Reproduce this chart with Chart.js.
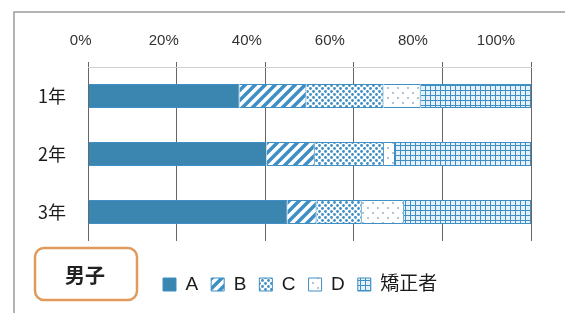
<!DOCTYPE html>
<html>
<head>
<meta charset="utf-8">
<script src="https://cdn.jsdelivr.net/npm/chart.js@4"></script>
<style>
    body { margin: 0; background: #fff; }
    canvas { display: block; }
</style>
</head>
<body>
<canvas id="myChart" width="565" height="313"></canvas>
<script>
// data (percent of each grade)
const grades = ['1年', '2年', '3年'];
const seriesNames = ['A', 'B', 'C', 'D', '矯正者'];
const valuesA = [34.2, 40.3, 45.0];
const valuesB = [15.1, 10.9, 6.6];
const valuesC = [17.4, 15.6, 10.2];
const valuesD = [8.4, 2.5, 9.5];
const valuesE = [24.9, 30.7, 28.7];
const tickValues = [0, 20, 40, 60, 80, 100];

const blue = '#3a86b0';
const lineBlue = '#3f8fc4';

const makePattern = (size, draw) => {
    const c = document.createElement('canvas');
    c.width = size;
    c.height = size;
    const g = c.getContext('2d');
    g.fillStyle = '#fff';
    g.fillRect(0, 0, size, size);
    draw(g, size);
    return document.getElementById('myChart').getContext('2d').createPattern(c, 'repeat');
};

const stripes = makePattern(10, (g, s) => {
    g.strokeStyle = lineBlue;
    g.lineWidth = 3.5;
    g.beginPath();
    g.moveTo(-5, 5); g.lineTo(5, -5);
    g.moveTo(0, s); g.lineTo(s, 0);
    g.moveTo(5, 15); g.lineTo(15, 5);
    g.stroke();
});

const dots = makePattern(6, (g) => {
    g.fillStyle = lineBlue;
    g.beginPath(); g.arc(1.5, 1.5, 1.4, 0, Math.PI * 2); g.fill();
    g.beginPath(); g.arc(4.5, 4.5, 1.4, 0, Math.PI * 2); g.fill();
});

const sparse = makePattern(10, (g) => {
    g.fillStyle = '#88a8c0';
    g.beginPath(); g.arc(3, 3, 0.9, 0, Math.PI * 2); g.fill();
    g.beginPath(); g.arc(8, 8, 0.9, 0, Math.PI * 2); g.fill();
});

const grid = makePattern(5, (g) => {
    g.fillStyle = '#e4f1fa';
    g.fillRect(0, 0, 5, 5);
    g.fillStyle = lineBlue;
    g.fillRect(0, 0, 5, 1);
    g.fillRect(0, 0, 1, 5);
});

const fills = [blue, stripes, dots, sparse, grid];
const seriesValues = [valuesA, valuesB, valuesC, valuesD, valuesE];

const datasets = seriesNames.map((name, i) => ({
    label: name,
    data: seriesValues[i],
    backgroundColor: fills[i],
    borderColor: lineBlue,
    borderWidth: 1,
    barPercentage: 0.41,
    categoryPercentage: 1
}));

// white background, outer frame and the "男子" tag
const framePlugin = {
    id: 'frame',
    beforeDraw: (chart) => {
        const ctx = chart.ctx;
        ctx.save();
        ctx.fillStyle = '#fff';
        ctx.fillRect(0, 0, chart.width, chart.height);
        ctx.strokeStyle = '#9a9a9a';
        ctx.lineWidth = 1.5;
        ctx.beginPath();
        ctx.moveTo(14, chart.height);
        ctx.lineTo(14, 12);
        ctx.lineTo(chart.width, 12);
        ctx.stroke();
        ctx.restore();
    },
    afterDraw: (chart) => {
        const ctx = chart.ctx;
        ctx.save();
        ctx.strokeStyle = '#e09a5c';
        ctx.lineWidth = 2.5;
        ctx.beginPath();
        ctx.roundRect(35, 248, 102, 52, 9);
        ctx.stroke();
        ctx.fillStyle = '#222';
        ctx.font = 'bold 20px "Noto Sans CJK JP"';
        ctx.textAlign = 'center';
        ctx.textBaseline = 'middle';
        ctx.fillText('男子', 85, 275);
        ctx.restore();
    },
    afterLayout: (chart) => {
        // legend row sits to the right of the tag
        const lg = chart.legend;
        lg.left = 150;
        lg.right = chart.width;
        lg.top = 262;
        lg.bottom = chart.height;
    }
};

const ctx = document.getElementById('myChart').getContext('2d');
const myChart = new Chart(ctx, {
    type: 'bar',
    plugins: [framePlugin],
    data: {
        labels: grades,
        datasets: datasets
    },
    options: {
        indexAxis: 'y',
        responsive: false,
        animation: false,
        layout: { padding: { top: 0, right: 34, bottom: 30, left: 0 } },
        plugins: {
            tooltip: { enabled: false },
            legend: {
                position: 'bottom',
                align: 'start',
                labels: {
                    boxWidth: 13,
                    boxHeight: 13,
                    padding: 13,
                    color: '#1a1a1a',
                    font: { size: 19, family: '"Liberation Sans", "Noto Sans CJK JP"' }
                }
            }
        },
        scales: {
            x: {
                type: 'linear',
                position: 'top',
                stacked: true,
                min: 0,
                max: 100,
                afterBuildTicks: (s) => { s.ticks = tickValues.map(v => ({ value: v })); },
                afterFit: (s) => { s.height = 5; },
                grid: { color: '#666', lineWidth: 1, drawTicks: true, tickLength: 5 },
                border: { display: true, color: '#cfcfcf' },
                ticks: { display: false }
            },
            xl: {
                type: 'linear',
                position: 'top',
                min: 1.76,
                max: 108.43,
                afterBuildTicks: (s) => { s.ticks = tickValues.map(v => ({ value: v })); },
                afterFit: (s) => { s.height = 62; },
                grid: { display: false, drawTicks: false },
                border: { display: false },
                ticks: {
                    autoSkip: false,
                    maxRotation: 0,
                    padding: 12,
                    color: '#333',
                    font: { size: 15, family: '"Liberation Sans"' },
                    callback: (v) => v + '%'
                }
            },
            y: {
                type: 'category',
                stacked: true,
                afterFit: (s) => { s.width = 88; },
                grid: { display: false, drawTicks: false },
                border: { display: false },
                ticks: {
                    padding: 22,
                    color: '#1a1a1a',
                    font: { size: 18, family: '"Noto Sans CJK JP"' }
                }
            }
        }
    }
});
</script>
</body>
</html>
